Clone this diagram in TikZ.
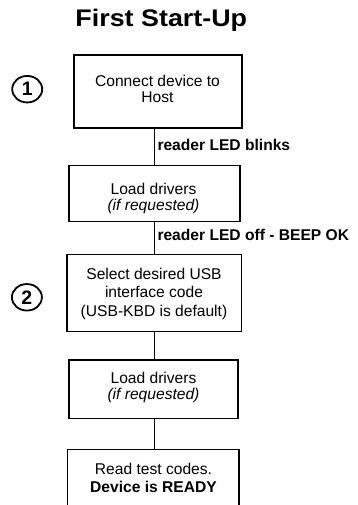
\documentclass[tikz,border=0pt]{standalone}
\usepackage{fontspec}
\setmainfont{Liberation Sans}
\usetikzlibrary{shapes.geometric}
\newcommand{\mylines}[1]{\begin{tabular}[t]{@{}c@{}}#1\end{tabular}}
\begin{document}
\begin{tikzpicture}[x=1pt,y=-1pt,
  flowbox/.style={draw=black, line width=1.8pt, rectangle, inner sep=0pt, outer sep=0pt},
  boxtext/.style={anchor=base, inner sep=0pt},
  steplabel/.style={anchor=base west, inner sep=0pt, font=\fontsize{15.6}{18}\selectfont\bfseries},
  stepmark/.style={draw=black, line width=1.8pt, ellipse, inner sep=0pt, minimum width=30pt, minimum height=26.5pt, font=\fontsize{19.5}{20}\selectfont\bfseries},
  conn/.style={draw=black, line width=1.8pt}]
\useasboundingbox (0,0) rectangle (357,505);
\clip (0,0) rectangle (357,505);
\fill[white] (0,0) rectangle (357,505);

\node[anchor=base, inner sep=0pt, font=\fontsize{24}{28}\selectfont\bfseries] (title) at (161.3,26.7) {\scalebox{1.12}[1]{First Start-Up}};

\node[flowbox, minimum width=168pt, minimum height=73.1pt] (b1) at (158,91.75) {};
\node[flowbox, minimum width=171pt, minimum height=56pt] (b2) at (154.5,193.5) {};
\node[flowbox, minimum width=174.5pt, minimum height=77pt] (b3) at (154.25,293) {};
\node[flowbox, minimum width=169pt, minimum height=58.5pt] (b4) at (153.5,389.25) {};
\node[flowbox, minimum width=171.5pt, minimum height=90.5pt] (b5) at (153.25,494.75) {};

\node[boxtext, font=\fontsize{15.6}{16}\selectfont] (t1) at (157.5,86.7) {\mylines{Connect device to\\Host}};
\node[boxtext, font=\fontsize{15.6}{15.5}\selectfont] (t2) at (153.5,194.3) {\mylines{Load drivers\\\textit{(if requested)}}};
\node[boxtext, font=\fontsize{15.6}{18.7}\selectfont] (t3) at (154,279) {\mylines{Select desired USB\\interface code\\(USB-KBD is default)}};
\node[boxtext, font=\fontsize{15.6}{16.5}\selectfont] (t4) at (153.5,383.3) {\mylines{Load drivers\\\textit{(if requested)}}};
\node[boxtext, font=\fontsize{15.6}{18.7}\selectfont] (t5) at (153.5,474) {\mylines{Read test codes.\\\textbf{Device is READY}}};

\node[stepmark] (m1) at (27.2,89.2) {1};
\node[stepmark] (m2) at (26.9,297.3) {2};

\draw[conn] (b2.north |- b1.south) -- (b2.north);
\draw[conn] (b2.south) -- (b2.south |- b3.north);
\draw[conn] (b2.south |- b3.south) -- (b2.south |- b4.north);
\draw[conn] (b2.south |- b4.south) -- (b2.south |- b5.north);

\node[steplabel] (l1) at (157.3,150.7) {reader LED blinks};
\node[steplabel] (l2) at (157.3,240.5) {reader LED off - BEEP OK};
\end{tikzpicture}
\end{document}
